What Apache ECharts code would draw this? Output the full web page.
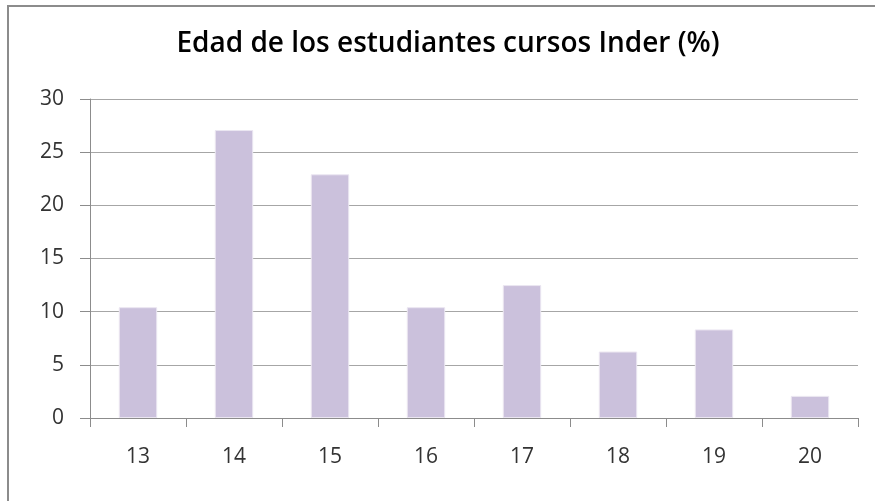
<!DOCTYPE html>
<html><head><meta charset="utf-8">
<script src="https://cdn.jsdelivr.net/npm/echarts@6/dist/echarts.min.js"></script>
<style>html,body{margin:0;padding:0;background:#fff}#c{width:875px;height:501px}</style>
</head><body><div id="c"></div>
<script>
const title = 'Edad de los estudiantes cursos Inder (%)';
const categories = ['13','14','15','16','17','18','19','20'];
const values = [10.42, 27.08, 22.92, 10.42, 12.5, 6.25, 8.33, 2.08];
const yTicks = {min: 0, max: 30, interval: 5};

const chart = echarts.init(document.getElementById('c'), null, {renderer: 'canvas'});
chart.setOption({
  animation: false,
  backgroundColor: '#fff',
  graphic: [
    {type: 'polyline', shape: {points: [[8, 501], [8, 6], [875, 6]]}, style: {stroke: '#8c8c8c', lineWidth: 2, fill: null}}
  ],
  title: {
    text: title, left: 443, top: 25, textAlign: 'center',
    textStyle: {fontFamily: 'Open Sans', fontWeight: 600, fontSize: 28, color: '#000'}
  },
  grid: {left: 90, right: 17, top: 99, bottom: 83, containLabel: false},
  xAxis: {
    type: 'category', data: categories,
    axisLine: {lineStyle: {color: '#8c8c8c', width: 1}},
    axisTick: {show: true, length: 9, alignWithLabel: false, lineStyle: {color: '#8c8c8c'}},
    axisLabel: {fontFamily: 'Open Sans', fontSize: 21, color: '#333', margin: 29},
    splitLine: {show: false}
  },
  yAxis: {
    type: 'value', min: yTicks.min, max: yTicks.max, interval: yTicks.interval,
    axisLine: {show: true, lineStyle: {color: '#8c8c8c'}},
    axisTick: {show: true, length: 10, inside: false, lineStyle: {color: '#8c8c8c'}},
    axisLabel: {fontFamily: 'Open Sans', fontSize: 21, color: '#333', margin: 26},
    splitLine: {lineStyle: {color: '#a6a6a6', width: 1}}
  },
  series: [{
    type: 'bar', data: values, barWidth: '40%',
    itemStyle: {color: '#cbc1dc', borderColor: '#ebe6f1', borderWidth: 1}
  }]
});
</script></body></html>
